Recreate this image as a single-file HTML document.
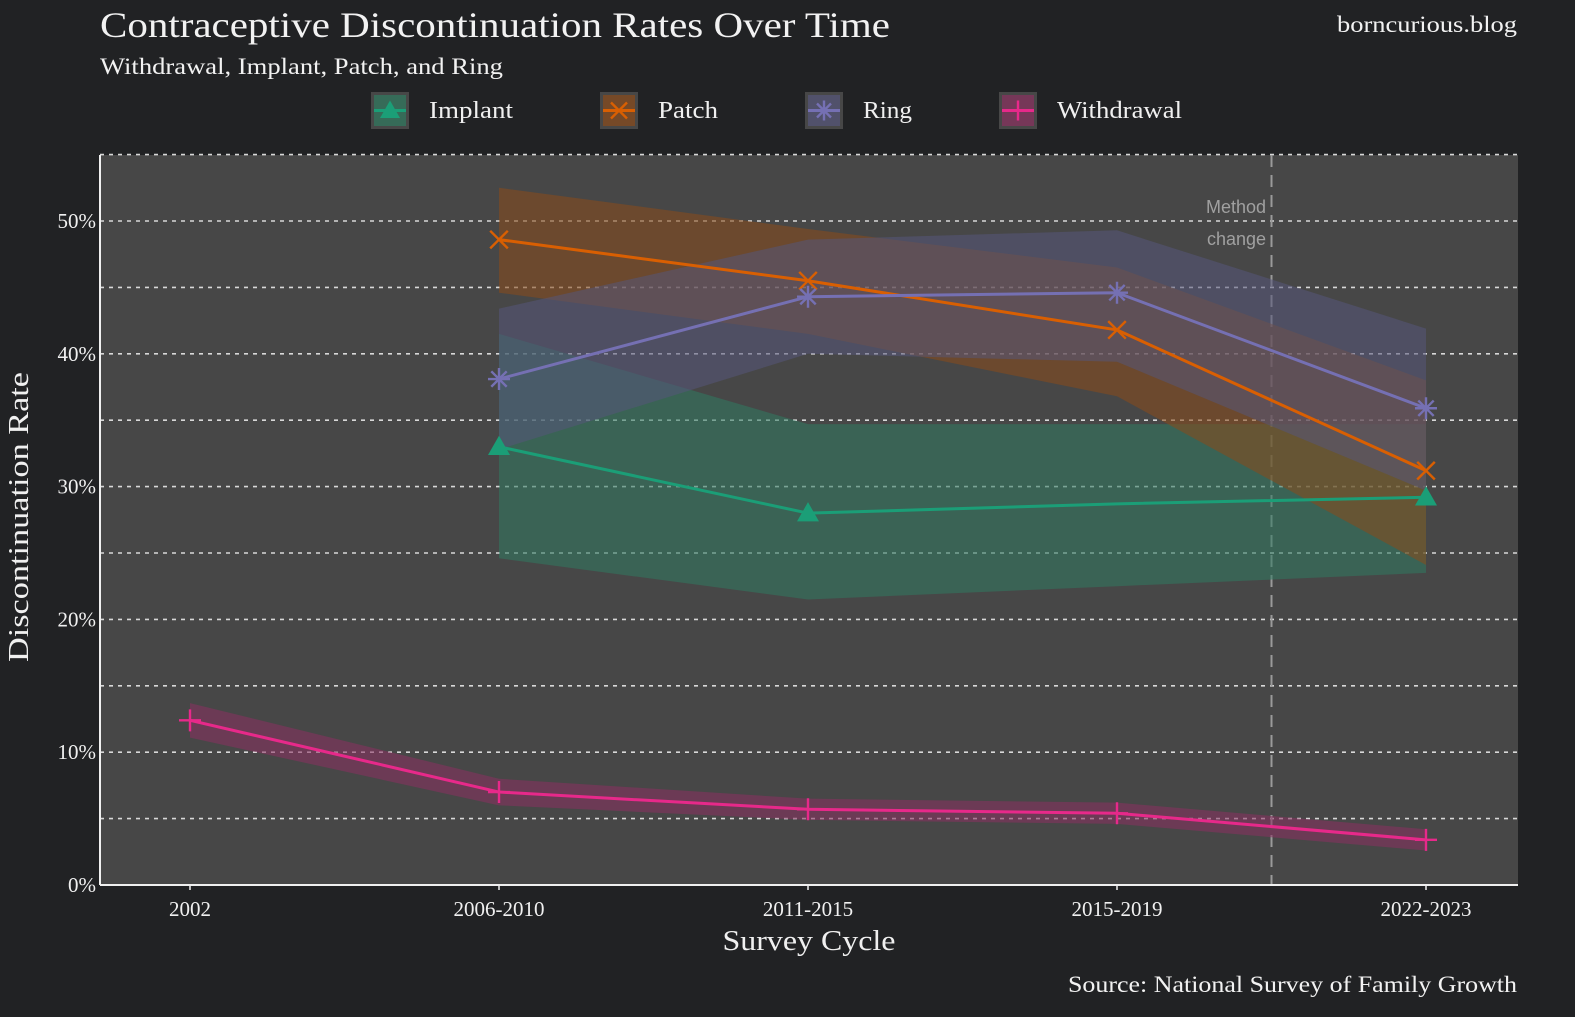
<!DOCTYPE html>
<html><head><meta charset="utf-8"><style>
html,body{margin:0;padding:0;background:#212224;}
body{width:1575px;height:1012px;overflow:hidden;font-family:"Liberation Serif",serif;}
</style></head><body>
<svg id="chart" width="1575" height="1012" xmlns="http://www.w3.org/2000/svg" font-family="Liberation Serif, serif">
<rect x="0" y="0" width="1575" height="1012" fill="#212224"/>
<text x="100" y="37" font-size="36" fill="#f2f2f2" textLength="790" lengthAdjust="spacingAndGlyphs">Contraceptive Discontinuation Rates Over Time</text>
<text x="100" y="74" font-size="23" fill="#f2f2f2" textLength="403" lengthAdjust="spacingAndGlyphs">Withdrawal, Implant, Patch, and Ring</text>
<text x="1517" y="32" font-size="23" fill="#f2f2f2" text-anchor="end" textLength="180" lengthAdjust="spacingAndGlyphs">borncurious.blog</text>
<text x="1517" y="992" font-size="23" fill="#f2f2f2" text-anchor="end" textLength="449" lengthAdjust="spacingAndGlyphs">Source: National Survey of Family Growth</text>
<rect x="100" y="155" width="1418" height="730" fill="#474747"/>
<g id="grid"></g><g id="ribbons"></g><g id="lines"></g><g id="axes"></g><g id="legend"></g>
</svg>
<script>
const categories = ["2002","2006-2010","2011-2015","2015-2019","2022-2023"];
const yTicks = [0,10,20,30,40,50];
const seriesNames = ["Implant","Patch","Ring","Withdrawal"];
const implantVals = [null,33.0,28.0,28.7,29.2];
const implantLow = [null,24.6,21.5,22.5,23.5];
const implantHigh = [null,41.5,34.7,34.7,34.7];
const patchVals = [null,48.6,45.5,41.8,31.2];
const patchLow = [null,44.6,41.5,36.8,24.1];
const patchHigh = [null,52.5,49.4,46.5,38.0];
const ringVals = [null,38.1,44.3,44.6,35.9];
const ringLow = [null,32.8,40.0,39.4,29.7];
const ringHigh = [null,43.4,48.6,49.3,41.9];
const withdrawalVals = [12.4,7.0,5.7,5.4,3.4];
const withdrawalLow = [11.1,6.0,4.9,4.6,2.6];
const withdrawalHigh = [13.7,8.0,6.5,6.2,4.2];
const implantMarkers = [false,true,true,false,true];

const NS="http://www.w3.org/2000/svg";
const X0=190, DX=309, Y0=885, PX_PER=13.28, L=100, R=1518, T=155;
const x = i => X0 + i*DX;
const y = v => Y0 - v*PX_PER;
function mk(tag, attrs, parent){const e=document.createElementNS(NS,tag);for(const k in attrs)e.setAttribute(k,attrs[k]);parent.appendChild(e);return e;}
const grid=document.getElementById('grid'), rib=document.getElementById('ribbons'), lin=document.getElementById('lines'), ax=document.getElementById('axes'), leg=document.getElementById('legend');

for(let v=0; v<=55; v+=5){
  if(v===0) continue;
  const g=mk('line',{x1:L,x2:R,y1:y(v),y2:y(v),stroke:'#d8d8d8','stroke-width':1.6,'stroke-dasharray':'4 5'},grid);
  
  
}
const vline=mk('line',{x1:(x(3)+x(4))/2,x2:(x(3)+x(4))/2,y1:T,y2:Y0,stroke:'#9a9a9a','stroke-width':2,'stroke-dasharray':'12 8'},grid);


const mt=mk('text',{x:1266,y:213,'font-size':18,fill:'#a0a0a0','text-anchor':'end','font-family':'Liberation Sans, sans-serif'},grid);mt.textContent='Method';


const mt2=mk('text',{x:1266,y:245,'font-size':18,fill:'#a0a0a0','text-anchor':'end','font-family':'Liberation Sans, sans-serif'},grid);mt2.textContent='change';



const series=[
 {name:'implant',vals:implantVals,low:implantLow,high:implantHigh,color:'#1b9e77',fill:'#2f7a60',m:'tri'},
 {name:'patch',vals:patchVals,low:patchLow,high:patchHigh,color:'#d95f02',fill:'#8a4a1a',m:'x'},
 {name:'ring',vals:ringVals,low:ringLow,high:ringHigh,color:'#7570b3',fill:'#55557a',m:'star'},
 {name:'withdrawal',vals:withdrawalVals,low:withdrawalLow,high:withdrawalHigh,color:'#e7298a',fill:'#8a3060',m:'plus'}
];
function marker(type,cx,cy,color,parent,s){
  s=s||11;
  if(type==='tri'){return mk('polygon',{points:`${cx},${cy-s} ${cx-s},${cy+s*0.75} ${cx+s},${cy+s*0.75}`,fill:color},parent);}
  const g=mk('g',{stroke:color,'stroke-width':2.4,fill:'none'},parent);
  if(type==='x'){mk('path',{d:`M${cx-s*0.8},${cy-s*0.8}L${cx+s*0.8},${cy+s*0.8}M${cx-s*0.8},${cy+s*0.8}L${cx+s*0.8},${cy-s*0.8}`},g);}
  if(type==='plus'){mk('path',{d:`M${cx-s},${cy}L${cx+s},${cy}M${cx},${cy-s}L${cx},${cy+s}`},g);}
  if(type==='star'){mk('path',{d:`M${cx-s},${cy}L${cx+s},${cy}M${cx},${cy-s}L${cx},${cy+s}M${cx-s*0.7},${cy-s*0.7}L${cx+s*0.7},${cy+s*0.7}M${cx-s*0.7},${cy+s*0.7}L${cx+s*0.7},${cy-s*0.7}`},g);}
  return g;
}
series.forEach(s=>{
  const idx=s.vals.map((v,i)=>v==null?null:i).filter(i=>i!=null);
  const top=idx.map(i=>`${x(i)},${y(s.high[i])}`), bot=idx.slice().reverse().map(i=>`${x(i)},${y(s.low[i])}`);
  const p=mk('polygon',{points:top.concat(bot).join(' '),fill:s.fill,'fill-opacity':0.55},rib);
  
  
});
series.forEach(s=>{
  const idx=s.vals.map((v,i)=>v==null?null:i).filter(i=>i!=null);
  const pl=mk('polyline',{points:idx.map(i=>`${x(i)},${y(s.vals[i])}`).join(' '),fill:'none',stroke:s.color,'stroke-width':3},lin);
  
  
  idx.forEach(i=>{
    if(s.name==='implant' && !implantMarkers[i]) return;
    const m=marker(s.m,x(i),y(s.vals[i]),s.color,lin);
    
    
  });
});
const yl=mk('line',{x1:L,x2:L,y1:T,y2:Y0,stroke:'#f0f0f0','stroke-width':2},ax);


const xl=mk('line',{x1:L,x2:R,y1:Y0,y2:Y0,stroke:'#f0f0f0','stroke-width':2},ax);


yTicks.forEach(v=>{
  const t=mk('text',{x:96,y:y(v)+7,'font-size':21,fill:'#f0f0f0','text-anchor':'end'},ax);t.textContent=v+'%';
  
  
});
categories.forEach((c,i)=>{
  mk('line',{x1:x(i),x2:x(i),y1:Y0,y2:Y0+5,stroke:'#f0f0f0','stroke-width':1.5},ax);
  const t=mk('text',{x:x(i),y:916,'font-size':21,fill:'#f0f0f0','text-anchor':'middle'},ax);t.textContent=c;
  
  
});
const xt=mk('text',{x:809,y:950,'font-size':29,fill:'#f0f0f0','text-anchor':'middle',textLength:173,lengthAdjust:'spacingAndGlyphs'},ax);xt.textContent='Survey Cycle';


const yt=mk('text',{x:0,y:0,'font-size':29,fill:'#f0f0f0','text-anchor':'middle',textLength:290,lengthAdjust:'spacingAndGlyphs',transform:'translate(28,517) rotate(-90)'},ax);yt.textContent='Discontinuation Rate';



const legX=[390,619,824,1018];
const legW=[84,60,49,125];
series.forEach((s,k)=>{
  const g=mk('g',{},leg);
  
  
  mk('rect',{x:legX[k]-19,y:92,width:38,height:37,fill:'#474747'},g);
  mk('rect',{x:legX[k]-16,y:95,width:32,height:31,fill:s.fill,'fill-opacity':0.7},g);
  mk('line',{x1:legX[k]-16,x2:legX[k]+16,y1:110.5,y2:110.5,stroke:s.color,'stroke-width':3},g);
  marker(s.m,legX[k],110.5,s.color,g,10);
  const t=mk('text',{x:legX[k]+39,y:118,'font-size':24,fill:'#f0f0f0',textLength:legW[k],lengthAdjust:'spacingAndGlyphs'},g);t.textContent=seriesNames[k];
});
</script>
</body></html>
